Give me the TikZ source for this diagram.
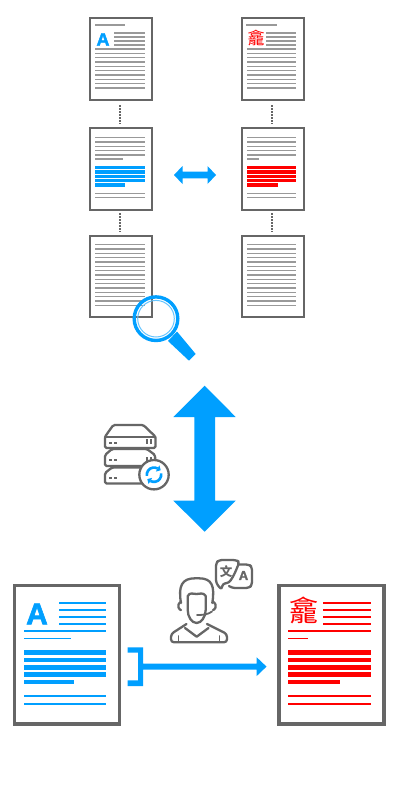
\documentclass[tikz,border=0pt]{standalone}
\usepackage{fontspec}
\setmainfont{Liberation Sans}
\newfontfamily\cjkfont{Noto Sans CJK TC}
\newfontfamily\heavy[BoldFeatures={FakeBold=2}]{Liberation Sans}
\definecolor{azure}{HTML}{009FFF}
\definecolor{ink}{HTML}{666666}
\definecolor{rule}{HTML}{999999}
\definecolor{vivid}{HTML}{FF0000}
\tikzset{
  page/.style={draw=ink,line width=2.2pt,fill=white},
  bigpage/.style={draw=ink,line width=3.2pt,fill=white},
  ico/.style={draw=ink,line width=2.3pt,line join=round,line cap=round},
  tie/.style={draw=ink,line width=2pt,dash pattern=on 2pt off 1pt},
  glyph/.style={inner sep=0pt,outer sep=0pt}
}
% colour, x1, x2, half thickness, list of y
\newcommand{\hlines}[5]{\foreach \yy in {#5}{\fill[#1] (#2,\yy-#4) rectangle (#3,\yy+#4);}}
\newcommand{\hbars}[4]{\foreach \yy/\zz in {#4}{\fill[#1] (#2,\yy) rectangle (#3,\zz);}}
\begin{document}
\begin{tikzpicture}[x=1pt,y=-1pt]
\useasboundingbox[fill=white] (0,0) rectangle (400,800);

% connectors of the small pages
\coordinate (la) at (120,105); \coordinate (lb) at (120,123.5);
\coordinate (lc) at (120,213); \coordinate (ld) at (120,231.5);
\coordinate (ra) at (272,105); \coordinate (rb) at (272,123.5);
\coordinate (rc) at (272,213); \coordinate (rd) at (272,231.5);
\draw[tie] (la) -- (lb);
\draw[tie] (lc) -- (ld);
\draw[tie] (ra) -- (rb);
\draw[tie] (rc) -- (rd);

% --- small left pages
\draw[page] (90,18) rectangle (152,100);
\hlines{rule}{95}{125}{.6}{25}
\hlines{rule}{114}{145}{.6}{33,37,41,45}
\hlines{rule}{95}{145}{.6}{49,53.3,57.6,62,66.3,70.6,75,79.3,83.6,88}
\node[glyph,text=azure] (smallA) at (103,39.5) {\fontsize{18}{18}\selectfont\heavy\bfseries A};

\draw[page] (90,128) rectangle (152,210);
\hlines{rule}{95}{145}{.6}{137.6,142,146.3,150.6,155}
\hlines{rule}{95}{123}{.6}{159}
\hbars{azure}{95}{145}{166/169.4,170.4/173.8,174.8/178,179/182.3}
\fill[azure] (95,183.3) rectangle (125,186.5);
\hlines{rule}{95}{145}{.6}{193.3,197.7}

\draw[page] (90,236) rectangle (152,317);
\hlines{rule}{95}{145}{.6}{244.7,249,253.3,257.6,262,266.3,270.6,275,279.3,283.6,288,292.3,296.6,301,305.3}

% --- small right pages
\draw[page] (242,18) rectangle (304,100);
\hlines{rule}{246}{277}{.6}{25}
\hlines{rule}{266}{296}{.6}{33,37,41,45}
\hlines{rule}{247}{296}{.6}{49,53.3,57.6,62,66.3,70.6,75,79.3,83.6,88}
\node[glyph,text=vivid] (smallG) at (256,38) {\fontsize{17}{17}\selectfont\cjkfont 龕};

\draw[page] (242,128) rectangle (304,210);
\hlines{rule}{247}{296}{.6}{137.6,142,146.3,150.6,155}
\hlines{rule}{247}{259}{.6}{159}
\hbars{vivid}{247}{296}{166/169.4,170.4/173.8,174.8/178,179/182.3}
\fill[vivid] (247,183.3) rectangle (278,186.5);
\hlines{rule}{247}{296}{.6}{193.3,197.7}

\draw[page] (242,236) rectangle (304,317);
\hlines{rule}{247}{296}{.6}{244.7,249,253.3,257.6,262,266.3,270.6,275,279.3,283.6,288,292.3,296.6,301,305.3}

% horizontal double arrow
\fill[azure] (174,175) -- (182.5,166) -- (182.5,171.7) -- (207.5,171.7) -- (207.5,166) -- (216,175)
  -- (207.5,184) -- (207.5,178.3) -- (182.5,178.3) -- (182.5,184) -- cycle;

% magnifier
\draw[azure,line width=3.4pt] (156,318.7) circle (21.8);
\draw[azure!60,line width=1pt] (156,318.7) circle (18.3);
\fill[azure] (168,341) -- (177,331.5) -- (195.7,354) -- (189,360.7) -- cycle;

% big double arrow
\fill[azure] (204.7,385.7) -- (235.7,417) -- (215,417) -- (215,500.7) -- (235.7,500.7) -- (204.7,531.7)
  -- (173.3,500.7) -- (194.3,500.7) -- (194.3,417) -- (173.3,417) -- cycle;

% server stack
\draw[ico,fill=white,rounded corners=1.5pt] (105,473) -- (112,467.5) -- (147,467.5) -- (155,473) -- (155.5,483.5) -- (105,483.5) -- cycle;
\draw[ico,fill=white,rounded corners=1.5pt] (105,455) -- (112,449) -- (147,449) -- (155,455) -- (155.5,466) -- (105,466) -- cycle;
\draw[ico,fill=white,rounded corners=1.5pt] (105,436.7) -- (113.3,425) -- (143.3,425) -- (155.5,436.7) -- (155.5,448) -- (105,448) -- cycle;
\draw[ico] (105,436.7) -- (155.5,436.7);
\foreach \yy in {442.7,460.3,478.3}{
  \fill[ink] (109,\yy-1) rectangle (112,\yy+1);
  \fill[ink] (113.5,\yy-1) rectangle (116.5,\yy+1);
}
\foreach \xx in {146.7,151}{
  \fill[ink] (\xx-.8,439) rectangle (\xx+.8,443.5);
  \fill[ink] (\xx-.8,457) rectangle (\xx+.8,461);
}
\draw[ico,fill=white] (154,474.7) circle (14.7);
\draw[azure,line width=2.6pt] (146.91,475.95) arc[start angle=-190,end angle=-60,radius=7.2];
\draw[azure,line width=2.6pt] (161.09,473.45) arc[start angle=-10,end angle=120,radius=7.2];
\fill[azure] (160.73,470.26) -- (159.4,465.33) -- (155.8,471.59) -- cycle;
\fill[azure] (147.27,479.14) -- (148.6,484.07) -- (152.2,477.81) -- cycle;

% big pages
\draw[bigpage] (14.5,585.5) rectangle (119.5,724);
\node[glyph,text=azure] (bigA) at (37,614) {\fontsize{30}{30}\selectfont\heavy\bfseries A};
\hlines{azure}{58.7}{106.3}{.8}{602.7,609.7,616.7,624}
\hlines{azure}{23.7}{106.3}{.8}{631}
\hlines{azure}{23.7}{70.7}{.8}{638.3}
\hbars{azure}{23.7}{106.3}{650.3/655.3,657.7/662.3,665/669.7,672/677}
\fill[azure] (23.7,679.7) rectangle (74,684.3);
\hlines{azure}{23.7}{106.3}{.8}{696,703.7}

\draw[bigpage] (279,585.5) rectangle (384,724);
\node[glyph,text=vivid] (bigG) at (303.5,610) {\fontsize{29}{29}\selectfont\cjkfont 龕};
\hlines{vivid}{323}{371}{.8}{602.7,609.7,616.7,624}
\hlines{vivid}{288}{371}{.8}{631}
\hlines{vivid}{288}{308}{.8}{638.3}
\hbars{vivid}{288}{371}{650.3/655.3,657.7/662.3,665/669.7,672/677}
\fill[vivid] (288,679.7) rectangle (340,684.3);
\hlines{vivid}{288}{371}{.8}{696,703.7}

% bracket and arrow
\fill[azure] (127.7,647.3) -- (143,647.3) -- (143,663.5) -- (256.7,663.5) -- (256.7,657.3) -- (266.5,666.6)
  -- (256.7,676) -- (256.7,669.5) -- (143,669.5) -- (143,686) -- (127.7,686) -- (127.7,680.3) -- (138,680.3)
  -- (138,652.7) -- (127.7,652.7) -- cycle;

% translator
\draw[ico,fill=white,rounded corners=3pt] (234,564.5) -- (249,564.5) -- (252,567) -- (252,585) -- (249,588) -- (232,588) -- (229,586);
\draw[ico,fill=white,rounded corners=3pt] (216,563) -- (219,560) -- (236,560) -- (239.5,562) -- (234,575) -- (229,583) -- (222.5,583.5) -- (221.7,590) -- (216,583) -- cycle;
\node[glyph,text=ink] (wen) at (226,571.5) {\fontsize{12.5}{12.5}\selectfont\cjkfont\bfseries 文};
\node[glyph,text=ink] (latinA) at (243.5,575.5) {\fontsize{13}{13}\selectfont\heavy\bfseries A};

% person
\draw[ico] (181,603) .. controls (178,586) and (182,578.3) .. (195,578.3) -- (199,578.3)
  .. controls (212,578.3) and (215,586) .. (212.3,603);
\draw[ico] (187.7,610) -- (187.7,596) .. controls (190,592) and (193,594) .. (196.5,594)
  .. controls (200,594) and (203,592) .. (205.7,596) -- (205.7,610) .. controls (205.7,617) and (201,623) .. (196.7,623)
  .. controls (192,623) and (187.7,617) .. (187.7,610);
\draw[ico,rounded corners=1.5pt] (181,602) -- (178.5,603) -- (178.5,609) -- (181,610);
\draw[ico,rounded corners=1.5pt] (213,602) -- (215.5,603) -- (215.5,609) -- (213,610);
\draw[ico,line width=1.8pt] (212,611.5) .. controls (208,614.5) and (203,615) .. (197,615);
\draw[ico,rounded corners=3pt] (186.5,624) -- (171,634) -- (171,642.3) -- (227,642.3) -- (227,634) -- (207,624);
\draw[ico] (185,628) -- (196.7,636.7) -- (208.5,628);
\draw[ico,line width=1.8pt] (178.5,636) -- (178.5,642);
\draw[ico,line width=1.8pt] (219.5,636) -- (219.5,642);
\end{tikzpicture}
\end{document}
